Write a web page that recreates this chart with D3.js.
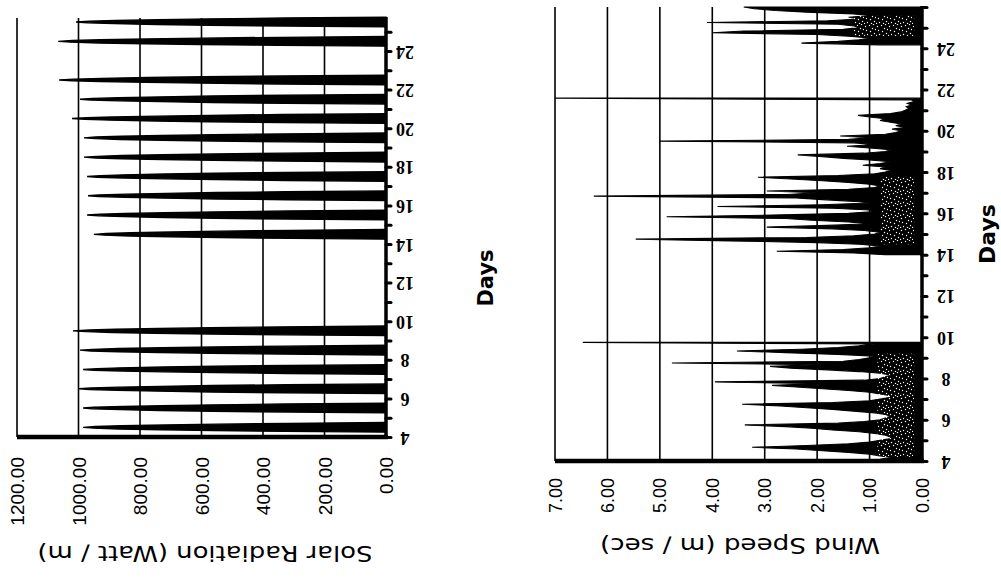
<!DOCTYPE html>
<html><head><meta charset="utf-8">
<script src="https://cdn.jsdelivr.net/npm/d3@7"></script>
<style>body{margin:0;background:#fff}svg{display:block}</style>
</head><body><svg id="c" width="1001" height="584"></svg>
<script>
// ---------------- DATA ----------------
const solarValueTicks = [0, 200, 400, 600, 800, 1000, 1200];
const windValueTicks = [0, 1, 2, 3, 4, 5, 6, 7];
const dayLabels = [4, 6, 8, 10, 12, 14, 16, 18, 20, 22, 24];
const solarHours = [6, 7, 8, 9, 10, 11, 12, 13, 14, 15, 16, 17, 18];
const solarDays = [4, 5, 6, 7, 8, 9, 14, 15, 16, 17, 18, 19, 20, 21, 22, 24, 25];
const solarValues = [
  [0, 330, 560, 730, 870, 950, 985, 945, 860, 720, 550, 320, 0],
  [0, 320, 565, 735, 865, 955, 985, 950, 855, 730, 560, 330, 0],
  [0, 335, 570, 740, 875, 965, 998, 960, 870, 735, 565, 325, 0],
  [0, 320, 555, 725, 860, 950, 985, 940, 865, 725, 555, 320, 0],
  [0, 330, 570, 735, 870, 960, 995, 955, 870, 730, 560, 330, 0],
  [0, 340, 575, 750, 890, 975, 1018, 965, 880, 740, 570, 335, 0],
  [0, 310, 540, 705, 835, 915, 950, 910, 830, 700, 540, 310, 0],
  [0, 325, 555, 720, 855, 935, 972, 930, 850, 720, 550, 320, 0],
  [0, 320, 550, 720, 850, 935, 969, 935, 845, 715, 550, 325, 0],
  [0, 325, 555, 720, 855, 940, 972, 930, 855, 720, 555, 325, 0],
  [0, 330, 560, 730, 860, 945, 982, 940, 860, 725, 560, 330, 0],
  [0, 330, 565, 730, 865, 945, 982, 945, 860, 730, 560, 325, 0],
  [0, 340, 580, 750, 895, 980, 1021, 975, 890, 745, 575, 335, 0],
  [0, 330, 565, 735, 870, 960, 995, 955, 870, 730, 565, 330, 0],
  [0, 350, 600, 780, 930, 1020, 1063, 1015, 925, 775, 595, 345, 0],
  [0, 350, 605, 785, 935, 1025, 1066, 1020, 930, 780, 600, 345, 0],
  [0, 335, 575, 745, 885, 970, 1008, 965, 880, 740, 570, 330, 0]
];
// wind speed, sampled every 2 hours; three recorded blocks
const windStepDays = 2 / 24;
const windBlockStart = [4, 14, 24.1667];
const windBlock1 = [
  0.7, 0.8, 0.6, 0.8, 1.0, 1.4, 1.9, 2.4, 3.24, 2.2, 1.4, 1.0,
  0.8, 0.6, 0.6, 0.7, 0.9, 1.2, 1.7, 2.1, 2.6, 3.38, 1.6, 1.1,
  0.8, 0.7, 0.6, 0.7, 0.9, 1.3, 1.7, 2.2, 2.7, 3.43, 1.7, 1.0,
  0.8, 0.6, 0.6, 0.8, 1.0, 1.4, 1.9, 2.4, 2.86, 1.9, 3.95, 1.1,
  0.8, 0.7, 0.6, 0.8, 1.2, 1.8, 2.5, 2.9, 2.0, 4.77, 1.5, 1.2,
  1.0, 0.9, 1.6, 2.6, 3.53, 2.3, 1.6, 1.2, 0.9, 6.47
];
const windBlock2 = [
  0.7, 1.3, 2.77, 1.5, 1.0, 0.8, 1.2, 2.0, 3.66, 5.46, 2.2, 1.3,
  0.9, 0.8, 1.1, 1.7, 2.96, 1.8, 1.0, 1.4, 2.1, 2.6, 4.87, 2.85,
  1.4, 0.9, 1.0, 1.7, 3.9, 1.9, 1.0, 1.3, 1.9, 2.4, 6.26, 2.58,
  2.0, 2.96, 1.4, 0.9, 0.8, 1.0, 1.4, 1.9, 2.5, 3.13, 1.6, 0.9,
  0.7, 0.6, 0.8, 0.7, 1.13, 0.8, 0.6, 1.0, 1.5, 1.9, 2.37, 1.1,
  0.7, 0.6, 1.0, 1.43, 0.9, 1.3, 5.0, 1.4, 1.0, 1.56, 0.7, 0.5,
  0.4, 0.57, 0.3, 0.5, 0.4, 0.6, 0.8, 0.7, 1.0, 1.22, 0.6, 0.4,
  0.32, 0.25, 0.3, 0.2, 0.28, 0.15, 0.2, 7.0
];
const windBlock3 = [
  0.8, 2.3, 1.6, 1.2, 1.0, 1.4, 2.0, 4.0, 3.4, 1.5, 1.2, 1.3,
  1.6, 4.1, 1.8, 1.2, 1.4, 1.0, 1.3, 2.2, 2.8, 3.2, 3.4
];

// ---------------- STYLE / DECORATION ----------------
// halftone speckle zones of the scanned original (day span, value span)
const speckleZones = [
  { d0: 4.2, d1: 9.2, v0: 0.15, v1: 0.85 },
  { d0: 14.5, d1: 17.8, v0: 0.15, v1: 0.8 },
  { d0: 24.6, d1: 25.6, v0: 0.15, v1: 1.3 }
];
const speckleDots = [[1,2],[5,1],[8,4],[2,6],[6,7],[10,9],[3,10],[9,0],[0,11],[11,5],[7,11]];

const svg = d3.select("#c");
svg.append("rect").attr("width", 1001).attr("height", 584).attr("fill", "#fff");

const defs = svg.append("defs");
const pat = defs.append("pattern").attr("id", "speckle").attr("patternUnits", "userSpaceOnUse")
  .attr("width", 12).attr("height", 12);
pat.selectAll("circle").data(speckleDots).join("circle")
  .attr("cx", d => d[0] + 0.5).attr("cy", d => d[1] + 0.5).attr("r", 0.7).attr("fill", "#fff");

const TICK_FONT = "'Liberation Sans', Arial, sans-serif";
const TITLE_FONT = "'DejaVu Sans', 'Liberation Sans', sans-serif";
const DAY_FONT = "'Liberation Serif', 'Times New Roman', serif";

function drawPanel(cfg) {
  const x = cfg.x, y = cfg.y;
  const g = svg.append("g");
  const yTop = y.range()[1], yBot = y.range()[0];
  const x0 = x(0);
  const vMax = cfg.valueTicks[cfg.valueTicks.length - 1];

  // vertical gridlines
  g.selectAll("line.grid").data(cfg.valueTicks.filter(v => v > 0)).join("line")
    .attr("x1", d => x(d)).attr("x2", d => x(d))
    .attr("y1", yTop).attr("y2", yBot)
    .attr("stroke", "#000").attr("stroke-width", 1.6);

  // data areas
  const area = d3.area().curve(d3.curveLinear)
    .y(d => y(d.t)).x0(x0).x1(d => x(Math.min(d.v, vMax)));
  g.selectAll("path.series").data(cfg.series).join("path")
    .attr("d", area).attr("fill", "#000").attr("stroke", "#000")
    .attr("stroke-width", cfg.seriesStroke).attr("stroke-linejoin", "miter");

  // speckles
  if (cfg.speckles) {
    g.selectAll("rect.speckle").data(cfg.speckles).join("rect")
      .attr("x", d => x(d.v1)).attr("width", d => x(d.v0) - x(d.v1))
      .attr("y", d => y(d.d1)).attr("height", d => y(d.d0) - y(d.d1))
      .attr("fill", "url(#speckle)");
  }

  // value axis (bold baseline)
  const ax = d3.axisBottom(x).tickValues(cfg.valueTicks).tickSize(0).tickPadding(0)
    .tickFormat(d3.format(".2f"));
  const axG = g.append("g").attr("transform", `translate(0,${yBot})`).call(ax);
  axG.select(".domain").attr("stroke", "#000").attr("stroke-width", 4.5)
    .attr("d", `M${x.range()[1]},0H${x0 + 2}`);
  axG.selectAll(".tick text")
    .attr("font-family", TICK_FONT).attr("font-size", cfg.tickFontSize).attr("fill", "#000")
    .attr("text-anchor", "end").attr("dy", null).attr("y", 0)
    .attr("transform", `translate(0,${cfg.tickLabelTop - yBot}) rotate(-90)`)
    .attr("dominant-baseline", "central");

  // day axis (bold vertical with bump ticks)
  const allDays = d3.range(4, Math.floor(y.domain()[1]) + 1);
  const dax = d3.axisRight(y).tickValues(allDays).tickSize(5).tickPadding(0)
    .tickFormat(d => dayLabels.includes(d) ? String(d) : "");
  const dG = g.append("g").attr("transform", `translate(${x0},0)`).call(dax);
  dG.select(".domain").attr("stroke", "#000").attr("stroke-width", 3.5)
    .attr("d", `M0,${yTop - 1}V${yBot + 2}`);
  dG.selectAll(".tick line").attr("stroke", "#000").attr("stroke-width", 3).attr("stroke-linecap", "round");
  dG.selectAll(".tick text")
    .attr("font-family", DAY_FONT).attr("font-weight", "bold").attr("font-size", cfg.dayFontSize)
    .attr("fill", "#000").attr("x", 0).attr("dy", null)
    .attr("text-anchor", "middle").attr("dominant-baseline", "central")
    .attr("transform", `translate(${cfg.dayLabelDx},0) rotate(180)`);

  // axis titles
  g.append("text").text(cfg.title)
    .attr("font-family", TITLE_FONT).attr("font-size", cfg.titleSize).attr("fill", "#000")
    .attr("text-anchor", "middle").attr("dominant-baseline", "central")
    .attr("textLength", cfg.titleLength).attr("lengthAdjust", "spacingAndGlyphs")
    .attr("transform", `translate(${cfg.titleX},${cfg.titleY}) rotate(180)`);
  g.append("text").text("Days")
    .attr("font-family", TITLE_FONT).attr("font-weight", "bold").attr("font-size", cfg.daysSize)
    .attr("fill", "#000").attr("text-anchor", "middle").attr("dominant-baseline", "central")
    .attr("transform", `translate(${cfg.daysX},${cfg.daysY}) rotate(-90)`);
}

// Solar panel
const solarX = d3.scaleLinear().domain([0, 1200]).range([386, 17]);
const solarY = d3.scaleLinear().domain([4, 24]).range([437, 51]);
solarY.domain([4, solarY.invert(18)]).range([437, 18]);
const solarSeries = solarDays.map((day, k) =>
  solarHours.map((h, i) => ({ t: day + h / 24, v: solarValues[k][i] })));
drawPanel({
  x: solarX, y: solarY, valueTicks: solarValueTicks, series: solarSeries, seriesStroke: 1.4,
  tickFontSize: 19, tickLabelTop: 457, dayFontSize: 18, dayLabelDx: 19,
  title: "Solar Radiation (Watt / m)", titleSize: 22, titleLength: 335, titleX: 205, titleY: 553,
  daysSize: 21, daysX: 486, daysY: 278
});

// Wind panel
const windX = d3.scaleLinear().domain([0, 7]).range([922, 555]);
const windY = d3.scaleLinear().domain([4, 26]).range([461, 7]);
const windBlocks = [windBlock1, windBlock2, windBlock3];
const windSeries = windBlocks.map((vals, b) =>
  vals.map((v, i) => ({ t: windBlockStart[b] + i * windStepDays, v })));
drawPanel({
  x: windX, y: windY, valueTicks: windValueTicks, series: windSeries, seriesStroke: 1.1,
  speckles: speckleZones,
  tickFontSize: 18, tickLabelTop: 478, dayFontSize: 18, dayLabelDx: 24,
  title: "Wind Speed (m / sec)", titleSize: 22, titleLength: 280, titleX: 740, titleY: 545,
  daysSize: 22, daysX: 987, daysY: 234
});
</script></body></html>
